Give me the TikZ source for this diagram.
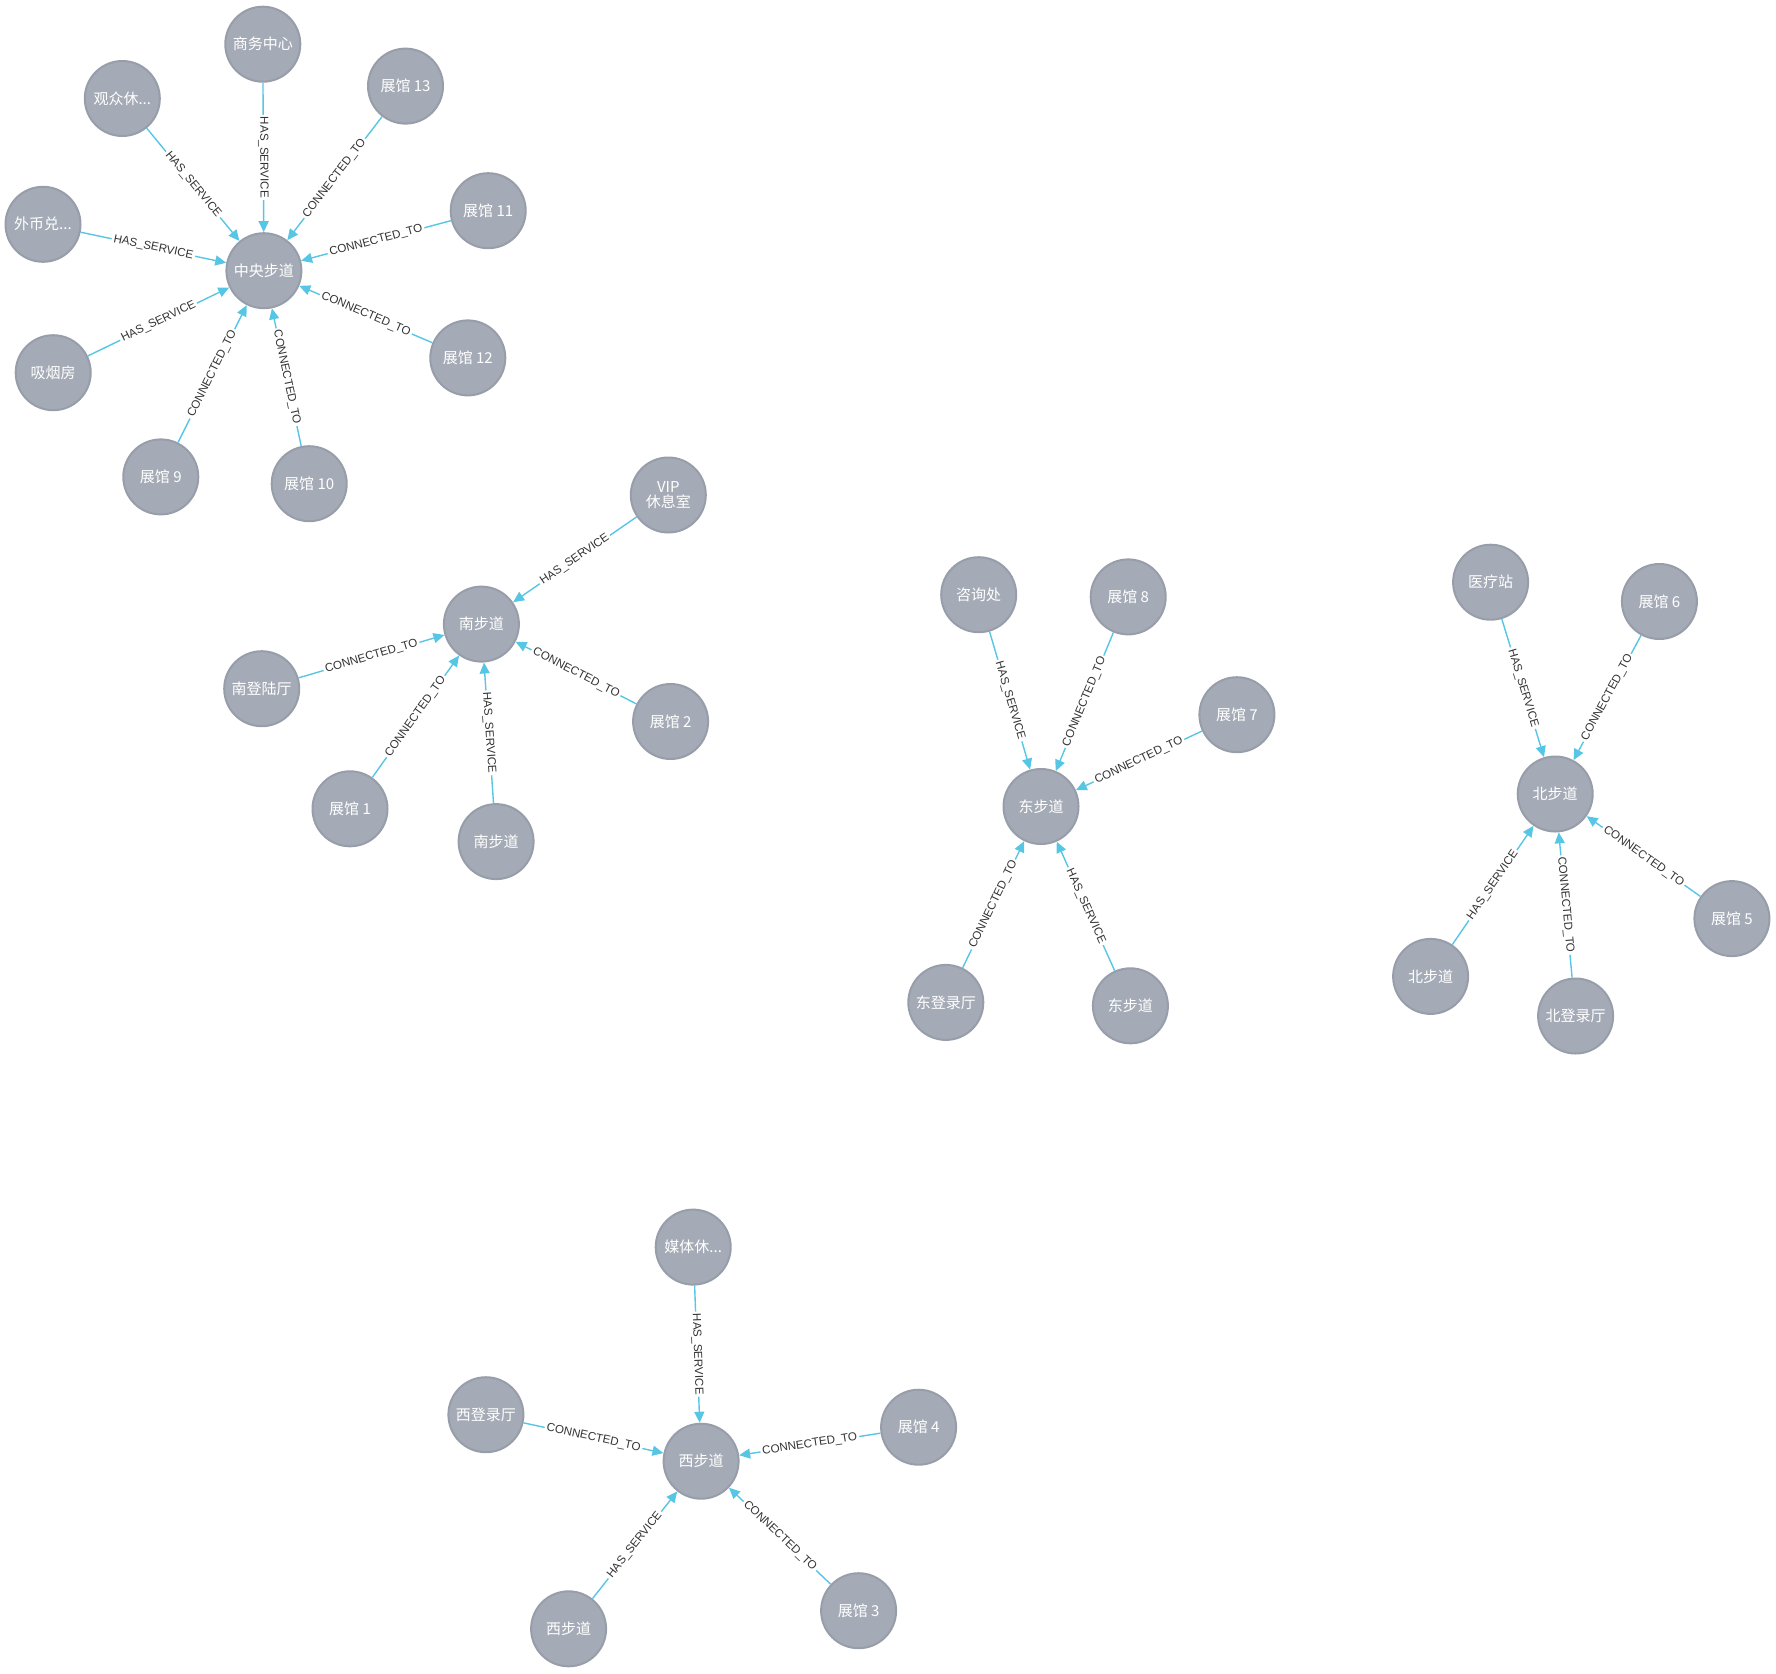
\documentclass[tikz,border=0pt]{standalone}
\usepackage{fontspec}
\setmainfont{Liberation Sans}
\newfontfamily\cjk{Noto Sans CJK SC}
\usetikzlibrary{arrows.meta}
\definecolor{nodefill}{HTML}{A5ABB6}
\definecolor{nodeline}{HTML}{979DA9}
\definecolor{edgecol}{HTML}{57C6E5}
\definecolor{labcol}{HTML}{333333}
\begin{document}
\begin{tikzpicture}[x=1pt,y=-1pt,
  gnode/.style={circle, fill=nodefill, draw=nodeline, line width=2pt, minimum size=75pt, inner sep=0pt, text=white, font=\cjk\fontsize{15}{16}\selectfont, align=center},
  rel/.style={draw=edgecol, line width=1.4pt, -{Triangle[length=11pt,width=10pt]}},
  elabel/.style={sloped, midway, fill=white, inner sep=2pt, text=labcol, font=\fontsize{11.6}{12}\selectfont}
]
\useasboundingbox (0,0) rectangle (1776,1673);

% cluster 1
\node[gnode] (c1) at (263.9,270.7) {中央步道};
\node[gnode] (swzx) at (262.8,44.2) {商务中心};
\node[gnode] (gzx) at (122.3,98.5) {观众休...};
\node[gnode] (z13) at (405.5,86.1) {展馆 13};
\node[gnode] (wbd) at (43.0,224.3) {外币兑...};
\node[gnode] (z11) at (488.2,210.7) {展馆 11};
\node[gnode] (xyf) at (53.2,372.7) {吸烟房};
\node[gnode] (z12) at (467.8,357.9) {展馆 12};
\node[gnode] (z9) at (160.8,476.9) {展馆 9};
\node[gnode] (z10) at (309.2,483.7) {展馆 10};

\draw[rel] (swzx) -- node[elabel] {HAS\_SERVICE} (c1);
\draw[rel] (gzx) -- node[elabel] {HAS\_SERVICE} (c1);
\draw[rel] (z13) -- node[elabel] {CONNECTED\_TO} (c1);
\draw[rel] (wbd) -- node[elabel] {HAS\_SERVICE} (c1);
\draw[rel] (z11) -- node[elabel] {CONNECTED\_TO} (c1);
\draw[rel] (xyf) -- node[elabel] {HAS\_SERVICE} (c1);
\draw[rel] (z12) -- node[elabel] {CONNECTED\_TO} (c1);
\draw[rel] (z9) -- node[elabel] {CONNECTED\_TO} (c1);
\draw[rel] (z10) -- node[elabel] {CONNECTED\_TO} (c1);

% cluster 2
\node[gnode] (c2) at (481.4,624.1) {南步道};
\node[gnode] (vip) at (668.3,495.0) {VIP\\[-1pt]休息室};
\node[gnode] (ndlt) at (261.7,688.7) {南登陆厅};
\node[gnode] (z2) at (670.6,721.5) {展馆 2};
\node[gnode] (z1) at (350.0,808.8) {展馆 1};
\node[gnode] (nbl) at (496.1,841.6) {南步道};

\draw[rel] (vip) -- node[elabel] {HAS\_SERVICE} (c2);
\draw[rel] (ndlt) -- node[elabel] {CONNECTED\_TO} (c2);
\draw[rel] (z2) -- node[elabel] {CONNECTED\_TO} (c2);
\draw[rel] (z1) -- node[elabel] {CONNECTED\_TO} (c2);
\draw[rel] (nbl) -- node[elabel] {HAS\_SERVICE} (c2);

% cluster 3
\node[gnode] (c3) at (1041.0,806.5) {东步道};
\node[gnode] (zxc) at (978.7,594.7) {咨询处};
\node[gnode] (z8) at (1128.2,596.9) {展馆 8};
\node[gnode] (z7) at (1236.9,714.7) {展馆 7};
\node[gnode] (ddlt) at (945.8,1002.4) {东登录厅};
\node[gnode] (dbl) at (1130.4,1005.8) {东步道};

\draw[rel] (zxc) -- node[elabel] {HAS\_SERVICE} (c3);
\draw[rel] (z8) -- node[elabel] {CONNECTED\_TO} (c3);
\draw[rel] (z7) -- node[elabel] {CONNECTED\_TO} (c3);
\draw[rel] (ddlt) -- node[elabel] {CONNECTED\_TO} (c3);
\draw[rel] (dbl) -- node[elabel] {HAS\_SERVICE} (c3);

% cluster 4
\node[gnode] (c4) at (1555.2,794.0) {北步道};
\node[gnode] (ylz) at (1490.6,582.2) {医疗站};
\node[gnode] (z6) at (1659.4,601.5) {展馆 6};
\node[gnode] (z5) at (1731.9,918.6) {展馆 5};
\node[gnode] (bbl) at (1430.6,976.4) {北步道};
\node[gnode] (bdlt) at (1575.6,1016.0) {北登录厅};

\draw[rel] (ylz) -- node[elabel] {HAS\_SERVICE} (c4);
\draw[rel] (z6) -- node[elabel] {CONNECTED\_TO} (c4);
\draw[rel] (z5) -- node[elabel] {CONNECTED\_TO} (c4);
\draw[rel] (bbl) -- node[elabel] {HAS\_SERVICE} (c4);
\draw[rel] (bdlt) -- node[elabel] {CONNECTED\_TO} (c4);

% cluster 5
\node[gnode] (c5) at (701.1,1461.2) {西步道};
\node[gnode] (mtx) at (693.2,1247.1) {媒体休...};
\node[gnode] (xdlt) at (485.9,1414.7) {西登录厅};
\node[gnode] (z4) at (918.6,1427.2) {展馆 4};
\node[gnode] (xbl) at (568.6,1628.8) {西步道};
\node[gnode] (z3) at (858.6,1610.7) {展馆 3};

\draw[rel] (mtx) -- node[elabel] {HAS\_SERVICE} (c5);
\draw[rel] (xdlt) -- node[elabel] {CONNECTED\_TO} (c5);
\draw[rel] (z4) -- node[elabel] {CONNECTED\_TO} (c5);
\draw[rel] (xbl) -- node[elabel] {HAS\_SERVICE} (c5);
\draw[rel] (z3) -- node[elabel] {CONNECTED\_TO} (c5);
\end{tikzpicture}
\end{document}
